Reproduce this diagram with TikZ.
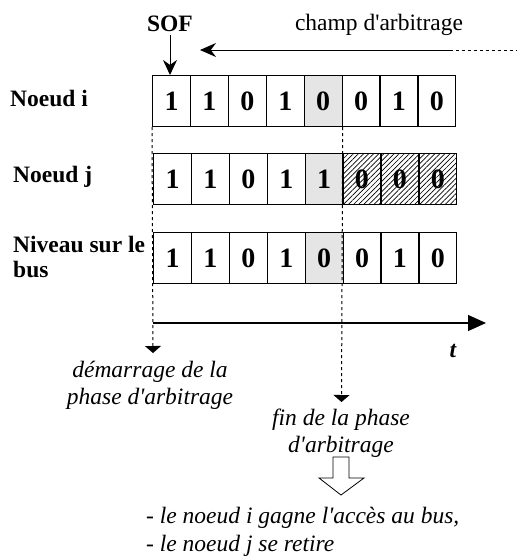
\documentclass[tikz,border=0pt]{standalone}
\usepackage{fontspec}
\setmainfont{Liberation Serif}[Ligatures=TeXOff]
\usepackage{tikz}
\usetikzlibrary{calc}
\usetikzlibrary{patterns,patterns.meta,arrows.meta}

\begin{document}
\begin{tikzpicture}[x=1pt,y=-1pt,
        bit/.style={draw, line width=1.2pt, minimum width=37.9pt, minimum height=51pt, inner sep=0pt, anchor=north west, font=\fontsize{28}{30}\selectfont\bfseries},
        gris/.style={fill=gray!20},
        hachure/.style={pattern={Lines[angle=45,distance=3.6pt,line width=0.7pt]}},
        nom/.style={anchor=base west, inner sep=0pt, align=left, font=\fontsize{23.5}{25}\selectfont\bfseries},
        note/.style={anchor=base, inner sep=0pt, align=center, font=\fontsize{23.5}{27}\selectfont\itshape},
        pointille/.style={dashed, line width=1pt, -{Triangle[length=7pt,width=16pt]}}]
        \useasboundingbox (0,0) rectangle (517,558);
        %CADRE DES BITS
        \foreach \b/\s [count=\k] in {1/,1/,0/,1/,0/gris,0/,1/,0/}
            \node[bit,\s] (i\k) at ({152+(\k-1)*37.9},75) {\b};
        \foreach \b/\s [count=\k] in {1/,1/,0/,1/,1/gris,0/hachure,0/hachure,0/hachure}
            \node[bit,\s] (j\k) at ({153+(\k-1)*37.9},153) {\b};
        \foreach \b/\s [count=\k] in {1/,1/,0/,1/,0/gris,0/,1/,0/}
            \node[bit,\s] (b\k) at ({153+(\k-1)*37.9},232) {\b};
        %NOMS DES LIGNES
        \node[nom] (ndi) at (10,106) {Noeud i};
        \node[nom] (ndj) at (13,182) {Noeud j};
        \node[nom] (niv) at (13,277) {Niveau sur le\\bus};
        %SOF ET CHAMP D'ARBITRAGE
        \node[anchor=base, inner sep=0pt, font=\fontsize{23.5}{27}\selectfont\bfseries] (sof) at (170,31) {SOF};
        \draw[line width=1pt, -{Stealth[length=15pt,width=14pt]}] ([yshift=-4pt]sof.south) -- (sof.south |- i1.north);
        \node[anchor=base, inner sep=0pt, font=\fontsize{23.5}{27}\selectfont] (champ) at (379,30) {champ d'arbitrage};
        \coordinate (c0) at (450,50);
        \coordinate (c1) at (517,50);
        \coordinate (c2) at (200,50);
        \draw[line width=1pt, -{Stealth[length=16pt,width=14pt]}] (c0) -- (c2);
        \draw[line width=1pt, dashed] (c0) -- (c1);
        %AXE DU TEMPS
        \coordinate (t0) at (153,323);
        \coordinate (t1) at (486,323);
        \draw[line width=1.2pt, -{Triangle[length=18pt,width=16pt]}] (t0) -- (t1);
        \node[anchor=base, inner sep=0pt, font=\fontsize{23.5}{27}\selectfont\bfseries\itshape] (t) at (453,357) {t};
        %DEBUT ET FIN
        \coordinate (d0) at (153,353);
        \coordinate (d1) at (341.5,402);
        \draw[pointille] (i1.south west) -- (d0);
        \draw[pointille] (i5.south east) -- (d1);
        \node[note] (debut) at (150,404) {démarrage de la\\phase d'arbitrage};
        \node[note] (fin) at (341,452) {fin de la phase\\d'arbitrage};
        %FLECHE CREUSE
        \draw[line width=0.8pt, fill=white] (333,457) -- (349,457) -- (349,478) -- (364,478) -- (341,495) -- (319,478) -- (333,478) -- cycle;
        \node[anchor=base west, inner sep=0pt, align=left, font=\fontsize{23.5}{28}\selectfont\itshape] (res) at (146,551) {- le noeud i gagne l'accès au bus,\\- le noeud j se retire};
\end{tikzpicture}
\end{document}
